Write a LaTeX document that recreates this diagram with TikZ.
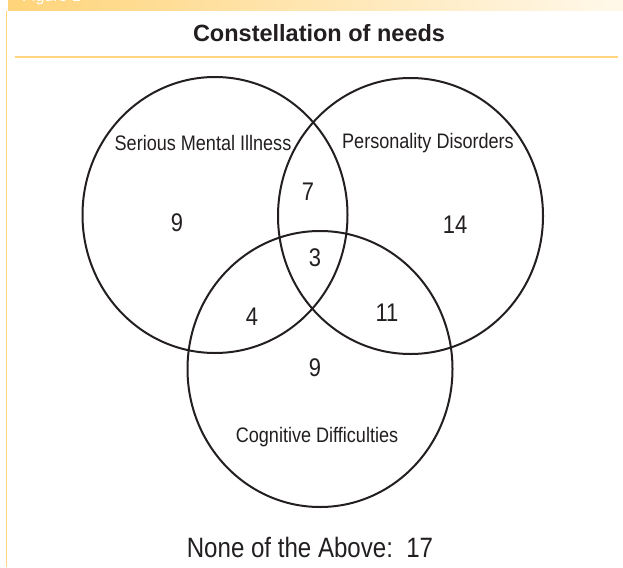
\documentclass[tikz,border=0pt]{standalone}
\usepackage{fontspec}
\setmainfont{Liberation Sans}
\newfontfamily\condfont[FakeStretch=0.86]{Liberation Sans}
\usetikzlibrary{shapes.geometric}
\definecolor{ink}{HTML}{231F20}
\definecolor{barL}{HTML}{FFD47A}
\definecolor{barR}{HTML}{FFF8EA}
\definecolor{rule}{HTML}{FFD67F}
\begin{document}
\begin{tikzpicture}[x=1pt,y=-1pt,
  setcircle/.style={draw=ink,line width=2pt,ellipse,minimum width=265pt,minimum height=276pt,inner sep=0pt},
  setlabel/.style={font=\condfont\fontsize{21}{24}\selectfont,text=ink,inner sep=0pt},
  count/.style={font=\condfont\fontsize{25.5}{28}\selectfont,text=ink,inner sep=0pt}]
\useasboundingbox (0,0) rectangle (623,567);
\fill[white] (0,0) rectangle (623,567);
% top bar
\fill[left color=barL,right color=barR] (8,0) rectangle (623,11);
\begin{scope}
\clip (8,0) rectangle (623,11);
\node[anchor=base west,text=white,font=\fontsize{16}{18}\selectfont,inner sep=0pt] (fig) at (22,2) {Figure 1};
\end{scope}
\draw[rule,line width=1.5pt] (6.5,11) -- (6.5,567);
\draw[rule,line width=2.5pt] (15,57) -- (618,57);
\node[font=\bfseries\fontsize{23.5}{27}\selectfont,text=ink] (title) at (319,33) {Constellation of needs};
% circles
\node[setcircle] (smi) at (215,215) {};
\node[setcircle] (pd) at (410.5,216) {};
\node[setcircle] (cd) at (320,369) {};
% labels
\node[setlabel] (lsmi) at (203,143) {Serious Mental Illness};
\node[setlabel] (lpd) at (428,143) {Personality Disorders};
\node[setlabel] (lcd) at (317,437) {Cognitive Difficulties};
% counts
\node[count] (n1) at (177,223) {9};
\node[count] (n2) at (308,192) {7};
\node[count] (n3) at (455,225) {14};
\node[count] (n4) at (315,258) {3};
\node[count] (n5) at (252,317) {4};
\node[count] (n6) at (387,313) {11};
\node[count] (n7) at (315,368) {9};
\node[font=\condfont\fontsize{28}{32}\selectfont,text=ink,inner sep=0pt] (none) at (310,547) {None of the Above:\ \ 17};
\end{tikzpicture}
\end{document}
